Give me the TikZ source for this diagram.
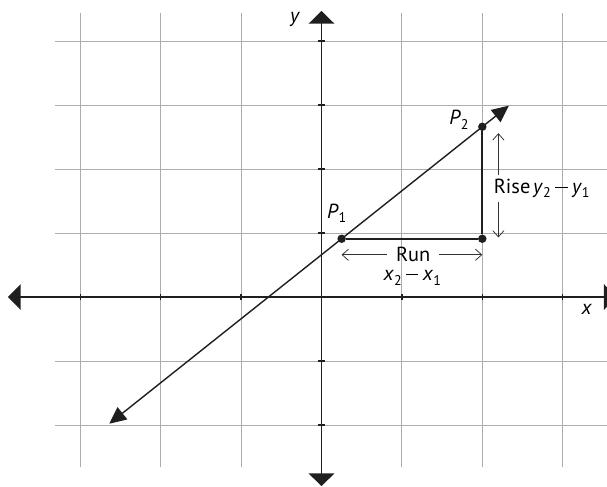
\documentclass[tikz,border=0pt]{standalone}
\usepackage{fontspec}
\setmainfont{PT Sans}
\usetikzlibrary{arrows.meta}

\newcommand{\lowsub}[1]{\raisebox{-0.22em}{\fontsize{10}{11}\selectfont #1}}
\newcommand{\minusbar}{\kern3.2pt\raisebox{0.27em}{\rule{0.6em}{0.75pt}}\kern3.2pt}

\begin{document}
\begin{tikzpicture}[
  x=2.01cm,y=1.6cm,
  font=\fontsize{14.5}{16}\selectfont,
  gridline/.style={draw=black!32,line width=0.7pt},
  axis/.style={draw=black!88,line width=1.4pt,
    {Triangle[width=18pt,length=9pt]}-{Triangle[width=18pt,length=9pt]}},
  tick/.style={draw=black!88,line width=1pt},
  slopeline/.style={draw=black!88,line width=1pt,
    {Triangle[width=11pt,length=12pt]}-{Triangle[width=11pt,length=12pt]}},
  leg/.style={draw=black!88,line width=1.3pt},
  dot/.style={circle,fill=black!88,inner sep=0pt,minimum size=6pt},
  measure/.style={draw=black!80,line width=0.55pt,-{Straight Barb[length=4.5pt,width=8pt]}},
  label/.style={inner sep=1pt}
]
  \useasboundingbox (-3.999,-2.953) rectangle (3.551,4.641);

  % grid
  \foreach \i in {-3,...,3}
    \draw[gridline] (\i,-2.66) -- (\i,4.44);
  \foreach \j in {-2,...,4}
    \draw[gridline] (-3.31,\j) -- (3.56,\j);

  % axes
  \coordinate (xl) at (-3.9,0);
  \coordinate (xr) at (3.67,0);
  \coordinate (yb) at (0,-2.955);
  \coordinate (yt) at (0,4.47);
  \draw[axis] (xl) -- (xr);
  \draw[axis] (yb) -- (yt);
  \foreach \i in {-3,...,3}
    \draw[tick] (\i,0) ++(0,-2pt) -- ++(0,4pt);
  \foreach \j in {-2,...,4}
    \draw[tick] (0,\j) ++(-2.5pt,0) -- ++(5pt,0);
  \node[label] (xlab) at (3.30,-0.20) {\textit{x}};
  \node[label] (ylab) at (-0.33,4.34) {\textit{y}};

  % line through the two points
  \coordinate (lineS) at (-2.64,-1.98);
  \coordinate (lineE) at (2.33,2.99);
  \draw[slopeline] (lineS) -- (lineE);

  % points and triangle
  \node[dot] (p1) at (0.25,0.91) {};
  \node[dot] (p2) at (2,2.66) {};
  \node[dot] (q) at (2,0.91) {};
  \draw[leg] (p1) -- (q) -- (p2);
  \node[label] (p1lab) at (0.19,1.31) {\textit{P}\lowsub{1}};
  \node[label] (p2lab) at (1.71,2.77) {\textit{P}\lowsub{2}};

  % run
  \coordinate (runL) at (0.25,0.66);
  \coordinate (runR) at (2,0.66);
  \node[inner sep=0pt,minimum width=37pt] (run) at (1.14,0.66) {Run};
  \draw[measure] (run.west) -- (runL);
  \draw[measure] (run.east) -- (runR);
  \node[label] (runlab) at (1.13,0.30) {\textit{x}\lowsub{2}\minusbar\textit{x}\lowsub{1}};

  % rise
  \coordinate (riseT) at (2.2,2.56);
  \coordinate (riseB) at (2.2,0.93);
  \node[inner xsep=0pt,inner ysep=0pt,minimum height=18.6pt,anchor=west] (rise) at (2.14,1.70)
    {Rise\kern2pt\textit{y}\lowsub{2}\minusbar\textit{y}\lowsub{1}};
  \draw[measure] (rise.north -| riseT) -- (riseT);
  \draw[measure] (rise.south -| riseB) -- (riseB);
\end{tikzpicture}
\end{document}
